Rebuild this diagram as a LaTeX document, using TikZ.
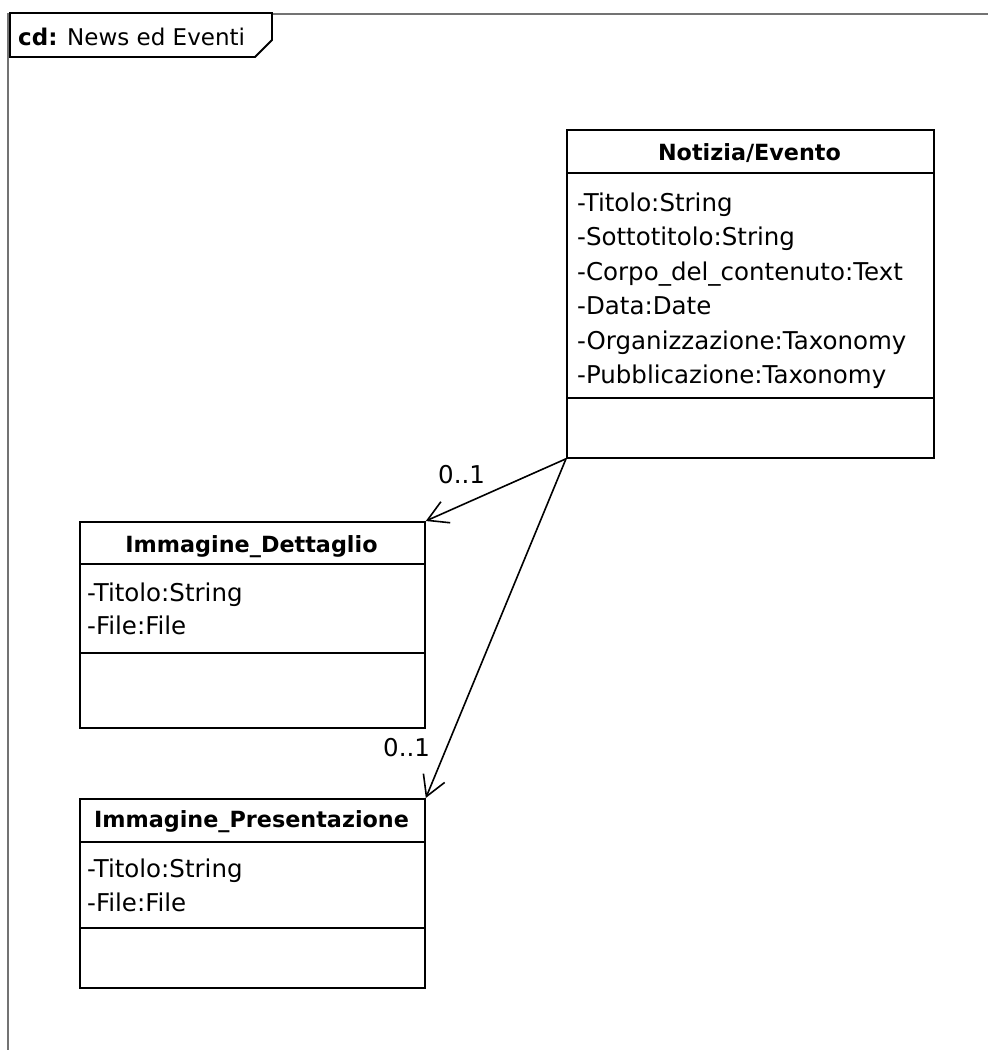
\documentclass[tikz,border=0pt]{standalone}
\usepackage{fontspec}
\setmainfont{DejaVu Sans}
\usetikzlibrary{arrows.meta}
\begin{document}
\begin{tikzpicture}[x=1pt,y=-1pt,
  boxline/.style={draw=black, line width=1.8pt},
  classbox/.style={boxline, fill=white, inner sep=0pt, anchor=north west},
  attr/.style={anchor=base west, inner sep=0pt, font=\fontsize{24.5}{28}\selectfont},
  tagtext/.style={anchor=base west, inner sep=0pt, font=\fontsize{23}{27}\selectfont},
  ctitle/.style={anchor=base, inner sep=0pt, font=\fontsize{22.3}{26}\selectfont\bfseries},
  mult/.style={anchor=base west, inner sep=0pt, font=\fontsize{24.5}{28}\selectfont},
  assoc/.style={draw=black, line width=1.6pt, -{Straight Barb[length=20pt,width=23pt,line width=1.6pt]}},
  framegray/.style={draw=black!55, line width=1.8pt}]
\useasboundingbox (0,0) rectangle (988,1050);

% diagram frame and its name tag
\draw[framegray] (988,14) -- (8,14) -- (8,1050);
\draw[boxline, fill=white] (10,13) -- (272,13) -- (272,40) -- (255,57) -- (10,57) -- cycle;
\node[tagtext] (tag) at (18,45) {\textbf{cd:} News ed Eventi};

% class Notizia/Evento
\node[classbox, minimum width=367pt, minimum height=328pt] (notizia) at (566,129) {};
\draw[boxline] (566,173) -- (933,173);
\draw[boxline] (566,398) -- (933,398);
\node[ctitle] (notiziaT) at (749.5,160) {Notizia/Evento};
\node[attr] (na1) at (577,211) {-Titolo:String};
\node[attr] (na2) at (577,245) {-Sottotitolo:String};
\node[attr] (na3) at (577,280) {-Corpo\_del\_contenuto:Text};
\node[attr] (na4) at (577,314) {-Data:Date};
\node[attr] (na5) at (577,349) {-Organizzazione:Taxonomy};
\node[attr] (na6) at (577,383) {-Pubblicazione:Taxonomy};

% class Immagine_Dettaglio
\node[classbox, minimum width=345pt, minimum height=206pt] (dett) at (79,521) {};
\draw[boxline] (79,564) -- (424,564);
\draw[boxline] (79,653) -- (424,653);
\node[ctitle] (dettT) at (251.5,552) {Immagine\_Dettaglio};
\node[attr] (da1) at (87,601) {-Titolo:String};
\node[attr] (da2) at (87,634) {-File:File};

% class Immagine_Presentazione
\node[classbox, minimum width=345pt, minimum height=189pt] (pres) at (79,798) {};
\draw[boxline] (79,842) -- (424,842);
\draw[boxline] (79,928) -- (424,928);
\node[ctitle] (presT) at (251.5,827) {Immagine\_Presentazione};
\node[attr] (pa1) at (87,877) {-Titolo:String};
\node[attr] (pa2) at (87,911) {-File:File};

% associations
\draw[assoc] (notizia.south west) -- (dett.north east);
\draw[assoc] (notizia.south west) -- (pres.north east);
\node[mult] (m1) at (438,483) {0..1};
\node[mult] (m2) at (383,756) {0..1};
\end{tikzpicture}
\end{document}
